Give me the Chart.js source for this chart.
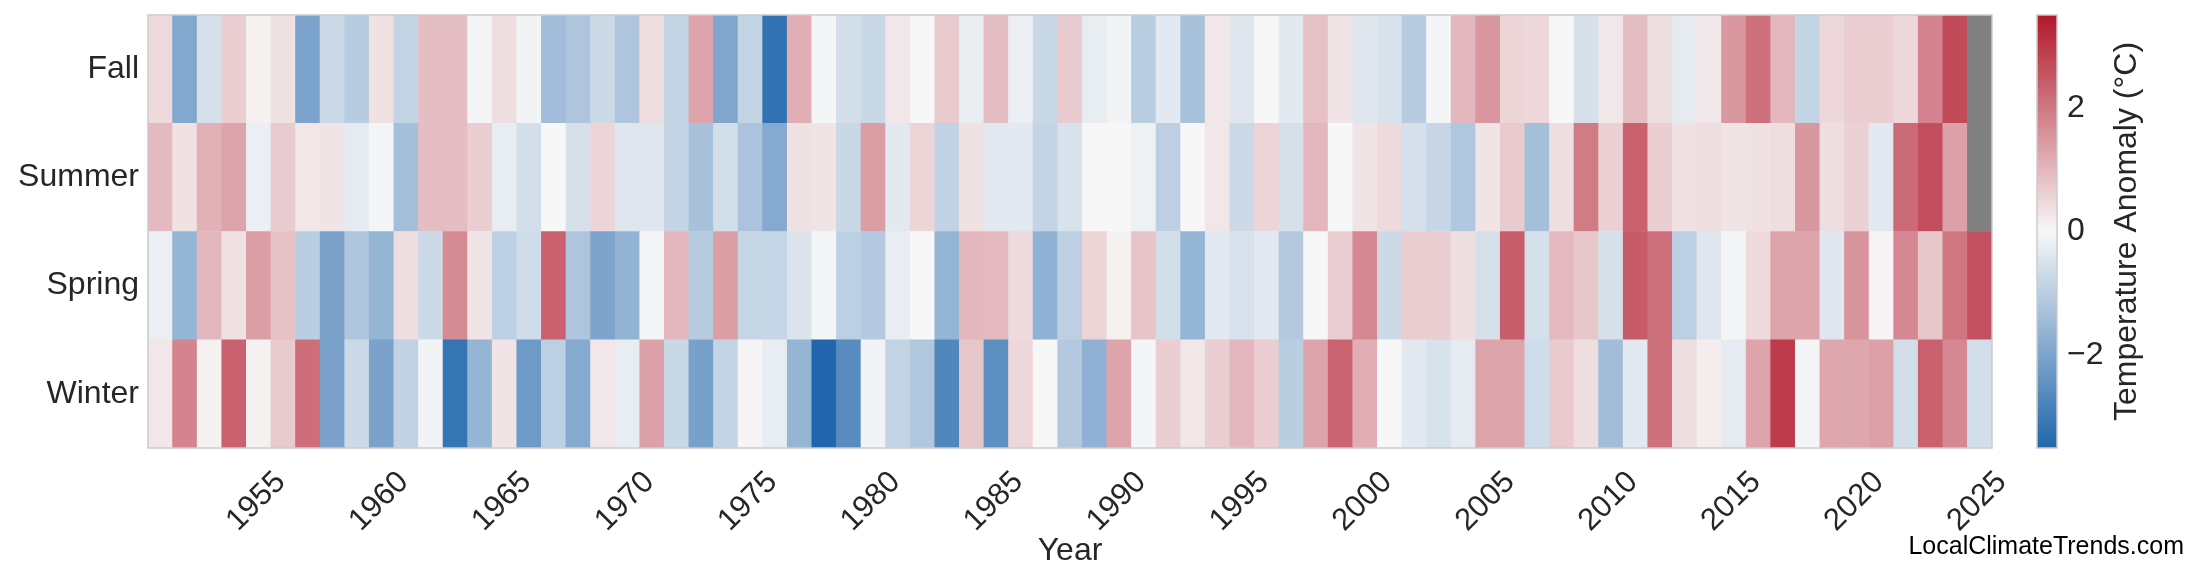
<!DOCTYPE html>
<html>
<head>
<meta charset="utf-8">
<title>Seasonal temperature anomaly</title>
<script src="https://cdn.jsdelivr.net/npm/chart.js@4.4.1/dist/chart.umd.min.js"></script>
<style>
  html, body { margin: 0; padding: 0; background: #ffffff; }
  #heat { display: block; }
</style>
</head>
<body>
<canvas id="heat" width="2200" height="585"></canvas>
<script>
// categories
var years = [1951, 1952, 1953, 1954, 1955, 1956, 1957, 1958, 1959, 1960,
  1961, 1962, 1963, 1964, 1965, 1966, 1967, 1968, 1969, 1970,
  1971, 1972, 1973, 1974, 1975, 1976, 1977, 1978, 1979, 1980,
  1981, 1982, 1983, 1984, 1985, 1986, 1987, 1988, 1989, 1990,
  1991, 1992, 1993, 1994, 1995, 1996, 1997, 1998, 1999, 2000,
  2001, 2002, 2003, 2004, 2005, 2006, 2007, 2008, 2009, 2010,
  2011, 2012, 2013, 2014, 2015, 2016, 2017, 2018, 2019, 2020,
  2021, 2022, 2023, 2024, 2025];
// rows, bottom to top
var seasons = ["Winter", "Spring", "Summer", "Fall"];
var xTickYears = [1955, 1960, 1965, 1970, 1975, 1980, 1985, 1990, 1995, 2000,
  2005, 2010, 2015, 2020, 2025];
var cbTicks = [-2, 0, 2];

// anomalies in degC, null = no data yet
var fall = [0.45, -1.9, -0.55, 0.65, 0.1, 0.35, -2.0, -0.7, -1.05, 0.35,
  -0.85, 0.9, 0.9, -0.05, 0.4, -0.1, -1.4, -1.2, -0.7, -1.2,
  0.4, -0.85, 1.3, -1.95, -0.85, -3.2, 1.15, -0.05, -0.6, -0.75,
  0.25, 0.0, 0.7, -0.25, 0.9, -0.2, -0.75, 0.7, -0.25, -0.1,
  -1.0, -0.35, -1.3, 0.25, -0.4, 0.0, -0.35, 0.85, 0.3, -0.4,
  -0.5, -1.05, -0.05, 1.0, 1.5, 0.55, 0.5, 0.0, -0.55, 0.25,
  0.9, 0.4, -0.3, 0.25, 1.5, 2.1, 1.0, -0.85, 0.5, 0.65,
  0.65, 0.5, 1.8, 2.7, null];
var summer = [0.95, 0.35, 1.1, 1.3, -0.2, 0.7, 0.25, 0.3, -0.3, -0.05,
  -1.35, 0.9, 0.9, 0.65, -0.25, -0.6, 0.0, -0.55, 0.55, -0.4,
  -0.4, -0.85, -1.3, -0.6, -1.25, -1.85, 0.35, 0.3, -0.75, 1.4,
  -0.35, 0.55, -0.9, 0.35, -0.35, -0.35, -0.85, -0.5, 0.0, 0.0,
  -0.15, -0.95, 0.0, 0.25, -0.7, 0.55, -0.55, 1.0, 0.0, 0.3,
  0.45, -0.55, -0.8, -1.15, 0.3, 0.7, -1.35, 0.4, 1.95, 0.6,
  2.35, 0.65, 0.35, 0.4, 0.3, 0.35, 0.4, 1.5, 0.4, 0.6,
  -0.35, 2.2, 2.65, 1.35, null];
var spring = [-0.2, -1.6, 1.0, 0.35, 1.4, 0.85, -1.0, -2.05, -1.2, -1.6,
  0.4, -0.7, 1.7, 0.3, -0.95, -0.65, 2.35, -1.2, -2.0, -1.65,
  -0.05, 1.0, -1.05, 1.4, -0.8, -0.8, -0.45, -0.05, -0.95, -1.1,
  -0.25, 0.0, -1.6, 1.0, 0.95, 0.45, -1.7, -0.95, 0.55, 0.1,
  0.8, -0.6, -1.6, -0.35, -0.5, -0.35, -1.1, 0.0, 0.65, 1.75,
  -0.7, 0.65, 0.65, 0.4, -0.55, 2.4, -0.55, 0.95, 0.75, -0.55,
  2.45, 2.1, -0.95, -0.4, -0.05, 0.45, 1.3, 1.3, -0.4, 1.55,
  0.05, 1.75, 0.75, 2.0, 2.6];
var winter = [0.25, 1.8, 0.1, 2.35, 0.1, 0.7, 2.15, -2.05, -0.7, -2.05,
  -0.9, -0.1, -3.15, -1.6, 0.3, -2.25, -0.95, -1.85, 0.25, -0.25,
  1.35, -0.75, -2.1, -0.85, 0.05, -0.25, -1.6, -3.5, -2.6, -0.1,
  -0.85, -1.15, -2.7, 0.75, -2.5, 0.5, 0.0, -1.1, -1.7, 1.3,
  -0.05, 0.65, 0.25, 0.65, 1.0, 0.65, -1.0, 1.3, 2.3, 1.15,
  0.0, -0.35, -0.5, -0.3, 1.3, 1.3, -0.65, 0.7, 0.4, -1.4,
  -0.35, 2.1, 0.4, 0.15, -0.3, 1.3, 2.95, -0.05, 1.25, 1.25,
  1.35, -0.6, 2.35, 1.75, -0.6];

var VMIN = -3.5, VMAX = 3.5;
var cLow = [33, 102, 172], cMid = [247, 247, 247], cHigh = [178, 24, 43];
var FONT = "'Liberation Sans', Arial, sans-serif";
var INK = "#262626";

// blue - white - red, linear in rgb
function anomalyColor(v) {
  if (v === null) return "#808080";
  var t = Math.max(VMIN, Math.min(VMAX, v));
  var end = t < 0 ? cLow : cHigh;
  t = Math.abs(t) / VMAX;
  var c = [0, 1, 2].map(function(k) {
    return Math.round(cMid[k] + (end[k] - cMid[k]) * t);
  });
  return "rgb(" + c.join(",") + ")";
}

function rowDataset(values, row) {
  return {
    data: values.map(function() { return [row, row + 1]; }),
    backgroundColor: values.map(anomalyColor),
    borderWidth: 0,
    barPercentage: 1,
    categoryPercentage: 1,
    grouped: false
  };
}

var datasets = [winter, spring, summer, fall].map(rowDataset);

// keep the axes from adding their own label padding to the plot box
function fixedSize(w, h) {
  return function(s) {
    if (w !== null) s.width = w;
    if (h !== null) s.height = h;
    s.paddingTop = 0;
    s.paddingBottom = 0;
    s.paddingLeft = 0;
    s.paddingRight = 0;
  };
}

// frame, colorbar, its label and the site name
var decor = {
  id: "decor",
  afterDraw: function(chart) {
    var ctx = chart.ctx, a = chart.chartArea;
    var cb = chart.scales.cb;
    ctx.save();
    ctx.strokeStyle = "#cccccc";
    ctx.lineWidth = 1.5;
    ctx.strokeRect(a.left, a.top, a.right - a.left, a.bottom - a.top);

    var x0 = a.right + 45, w = 20;
    var yTop = cb.getPixelForValue(VMAX), yBot = cb.getPixelForValue(VMIN);
    var g = ctx.createLinearGradient(0, yBot, 0, yTop);
    g.addColorStop(0, "rgb(" + cLow.join(",") + ")");
    g.addColorStop(0.5, "rgb(" + cMid.join(",") + ")");
    g.addColorStop(1, "rgb(" + cHigh.join(",") + ")");
    ctx.fillStyle = g;
    ctx.fillRect(x0, yTop, w, yBot - yTop);
    ctx.strokeRect(x0, yTop, w, yBot - yTop);

    ctx.fillStyle = INK;
    ctx.font = "32px " + FONT;
    ctx.textAlign = "center";
    ctx.textBaseline = "middle";
    ctx.translate(a.right + 135, (yTop + yBot) / 2);
    ctx.rotate(-Math.PI / 2);
    ctx.fillText("Temperature Anomaly (\u00b0C)", 0, 0);
    ctx.restore();

    ctx.save();
    ctx.fillStyle = "#000000";
    ctx.font = "25px " + FONT;
    ctx.textAlign = "right";
    ctx.textBaseline = "middle";
    ctx.fillText("LocalClimateTrends.com", 2184, 547);
    ctx.restore();
  }
};

new Chart(document.getElementById("heat"), {
  type: "bar",
  data: { labels: years, datasets: datasets },
  options: {
    responsive: false,
    animation: false,
    layout: { padding: { top: 15, left: 0, right: 0, bottom: 0 } },
    plugins: { legend: { display: false }, tooltip: { enabled: false } },
    scales: {
      x: {
        type: "category",
        offset: true,
        grid: { display: false, drawTicks: false },
        border: { display: false },
        ticks: {
          autoSkip: false,
          minRotation: 45,
          maxRotation: 45,
          padding: 16,
          labelOffset: 22,
          color: INK,
          font: { family: FONT, size: 31 },
          callback: function(value, index) {
            return xTickYears.indexOf(years[index]) >= 0 ? String(years[index]) : "";
          }
        },
        title: {
          display: true,
          text: "Year",
          color: INK,
          font: { family: FONT, size: 32 },
          padding: { top: 0, bottom: 15 }
        },
        afterFit: fixedSize(null, 137)
      },
      y: {
        type: "linear",
        min: 0,
        max: 4,
        grid: { display: false, drawTicks: false },
        border: { display: false },
        afterBuildTicks: function(s) {
          s.ticks = [0.5, 1.5, 2.5, 3.5].map(function(v) { return { value: v }; });
        },
        ticks: {
          padding: 9,
          color: INK,
          font: { family: FONT, size: 32 },
          callback: function(v) { return seasons[Math.floor(v)]; }
        },
        afterFit: fixedSize(148, null)
      },
      cb: {
        type: "linear",
        position: "right",
        min: VMIN,
        max: VMAX,
        grid: { display: false, drawTicks: false },
        border: { display: false },
        afterBuildTicks: function(s) {
          s.ticks = cbTicks.map(function(v) { return { value: v }; });
        },
        ticks: {
          padding: 75,
          color: INK,
          font: { family: FONT, size: 32 },
          callback: function(v) { return v < 0 ? "\u2212" + Math.abs(v) : String(v); }
        },
        afterFit: fixedSize(208, null)
      }
    }
  },
  plugins: [decor]
});
</script>
</body>
</html>
